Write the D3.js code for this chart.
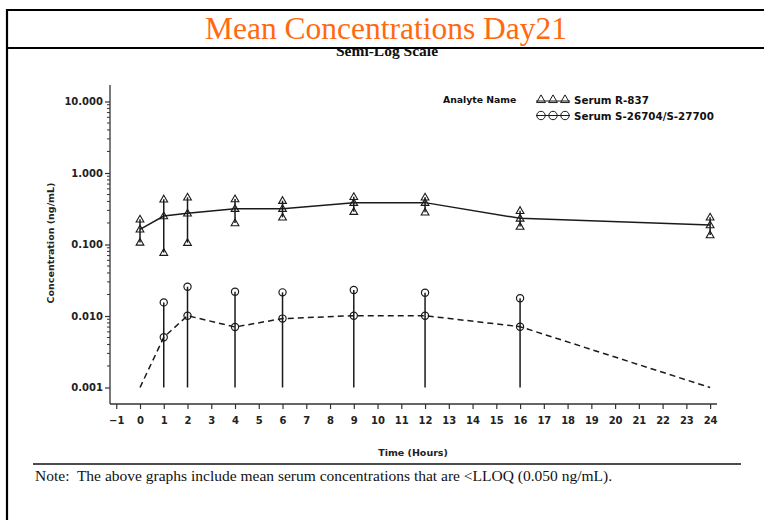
<!DOCTYPE html>
<html><head><meta charset="utf-8">
<script src="https://cdn.jsdelivr.net/npm/d3@7"></script>
<style>
html,body{margin:0;padding:0;background:#fff;}
svg{display:block;}
</style></head>
<body>
<svg id="chart" width="764" height="520"></svg>
<script>
// ---- data ----
const times = [0, 1, 2, 4, 6, 9, 12, 16, 24];
const r837Mean  = [0.163, 0.25, 0.273, 0.317, 0.317, 0.385, 0.385, 0.232, 0.187];
const r837Upper = [0.225, 0.43, 0.457, 0.433, 0.41, 0.466, 0.457, 0.297, 0.24];
const r837Lower = [0.107, 0.077, 0.106, 0.20, 0.24, 0.288, 0.282, 0.178, 0.136];
const sMean  = [0.001, 0.00504, 0.0101, 0.00702, 0.0092, 0.0101, 0.0101, 0.00709, 0.001];
const sUpper = [null, 0.0155, 0.0257, 0.0219, 0.0214, 0.0231, 0.0212, 0.0177, null];
const sLower = [null, 0.001, 0.001, 0.001, 0.001, 0.001, 0.001, 0.001, null];
const xTickValues = d3.range(-1, 25);
const yTickValues = [0.001, 0.01, 0.1, 1, 10];
const seriesNames = ["Serum R-837", "Serum S-26704/S-27700"];
const titleText = "Mean Concentrations Day21";
const subtitleText = "Semi-Log Scale";
const xLabel = "Time (Hours)";
const yLabel = "Concentration (ng/mL)";
const legendTitle = "Analyte Name";
const noteText = "Note:  The above graphs include mean serum concentrations that are <LLOQ (0.050 ng/mL).";

const svg = d3.select("#chart");
const sans = "'DejaVu Sans', sans-serif";
const serif = "'Liberation Serif', 'Times New Roman', serif";

const x = d3.scaleLinear().domain([-1.263, 24.29]).range([110, 717]);
const y = d3.scaleLog().domain([0.000588, 17.0]).range([404, 85]);

// subtitle (drawn first, top clipped by title box)
svg.append("text").attr("x", 387).attr("y", 56).attr("text-anchor", "middle")
  .attr("font-family", serif).attr("font-size", 15.5).attr("font-weight", "bold")
  .attr("fill", "#111").text(subtitleText);
svg.append("rect").attr("x", 0).attr("y", 0).attr("width", 764).attr("height", 48).attr("fill", "#fff");

// frame
svg.append("line").attr("x1", 7).attr("x2", 764).attr("y1", 10).attr("y2", 10).attr("stroke", "#000").attr("stroke-width", 2.2);
svg.append("line").attr("x1", 7).attr("x2", 764).attr("y1", 48).attr("y2", 48).attr("stroke", "#000").attr("stroke-width", 2.2);
svg.append("line").attr("x1", 7).attr("x2", 7).attr("y1", 9).attr("y2", 520).attr("stroke", "#000").attr("stroke-width", 2.2);

// title
svg.append("text").attr("x", 386).attr("y", 39).attr("text-anchor", "middle")
  .attr("font-family", serif).attr("font-size", 31.5).attr("fill", "#FF6A10").text(titleText);

// axes
const axisColor = "#333";
const gY = svg.append("g");
gY.append("line").attr("x1", 110).attr("x2", 110).attr("y1", 85).attr("y2", 404).attr("stroke", axisColor).attr("stroke-width", 1.3);
const yAxis = d3.axisLeft(y).tickValues(yTickValues).tickSize(5).tickFormat(d3.format(".3f"));
const gYA = svg.append("g").attr("transform", "translate(110,0)").call(yAxis);
gYA.select(".domain").remove();
gYA.selectAll(".tick line").attr("stroke", axisColor).attr("stroke-width", 1.2);
gYA.selectAll(".tick text").attr("font-family", sans).attr("font-weight", "bold").attr("font-size", 10).attr("fill", "#222").attr("x", -7);
// minor ticks
const minor = [];
[0.001, 0.01, 0.1, 1].forEach(b => { for (let k = 2; k <= 9; k++) minor.push(b * k); });
svg.append("g").selectAll("line").data(minor).join("line")
  .attr("x1", 107).attr("x2", 110).attr("y1", d => y(d)).attr("y2", d => y(d))
  .attr("stroke", axisColor).attr("stroke-width", 1);

const xAxis = d3.axisBottom(x).tickValues(xTickValues).tickSize(5).tickFormat(d => d < 0 ? "\u2212" + Math.abs(d) : d);
const gXA = svg.append("g").attr("transform", "translate(0,404)").call(xAxis);
gXA.select(".domain").attr("d", "M110,0H717").attr("stroke", axisColor).attr("stroke-width", 1.3);
gXA.selectAll(".tick line").attr("stroke", axisColor).attr("stroke-width", 1.2);
gXA.selectAll(".tick text").attr("font-family", sans).attr("font-weight", "bold").attr("font-size", 10).attr("fill", "#222").attr("y", 13);

// axis labels
svg.append("text").attr("x", 413).attr("y", 456).attr("text-anchor", "middle")
  .attr("font-family", sans).attr("font-weight", "bold").attr("font-size", 9.5).attr("fill", "#222").text(xLabel);
svg.append("text").attr("transform", "translate(54,243) rotate(-90)").attr("text-anchor", "middle")
  .attr("font-family", sans).attr("font-weight", "bold").attr("font-size", 9.5).attr("fill", "#222").text(yLabel);

// symbols
const tri = d3.symbol().type(d3.symbolTriangle).size(26);
const lineCol = "#1a1a1a";

// series 1: R-837
const s1 = times.map((t, i) => ({t, m: r837Mean[i], u: r837Upper[i], l: r837Lower[i]}));
const g1 = svg.append("g");
g1.selectAll("line.err").data(s1).join("line").attr("class", "err")
  .attr("x1", d => x(d.t)).attr("x2", d => x(d.t)).attr("y1", d => y(d.l)).attr("y2", d => y(d.u))
  .attr("stroke", lineCol).attr("stroke-width", 1.5);
g1.append("path").datum(s1).attr("fill", "none").attr("stroke", lineCol).attr("stroke-width", 1.5)
  .attr("d", d3.line().x(d => x(d.t)).y(d => y(d.m)));
["u", "l", "m"].forEach(k => {
  g1.selectAll("path.m" + k).data(s1).join("path").attr("class", "m" + k)
    .attr("d", tri).attr("transform", d => `translate(${x(d.t)},${y(d[k]) + 0.5})`)
    .attr("fill", "none").attr("stroke", lineCol).attr("stroke-width", 1.1);
});

// series 2: S-26704/S-27700
const s2 = times.map((t, i) => ({t, m: sMean[i], u: sUpper[i], l: sLower[i]}));
const g2 = svg.append("g");
const withBars = s2.filter(d => d.u !== null);
g2.selectAll("line.err").data(withBars).join("line").attr("class", "err")
  .attr("x1", d => x(d.t)).attr("x2", d => x(d.t)).attr("y1", d => y(d.l)).attr("y2", d => y(d.u))
  .attr("stroke", lineCol).attr("stroke-width", 1.5);
g2.append("path").datum(s2).attr("fill", "none").attr("stroke", lineCol).attr("stroke-width", 1.5)
  .attr("stroke-dasharray", "6,4")
  .attr("d", d3.line().x(d => x(d.t)).y(d => y(d.m)));
["u", "m"].forEach(k => {
  g2.selectAll("circle.m" + k).data(withBars).join("circle").attr("class", "m" + k)
    .attr("cx", d => x(d.t)).attr("cy", d => y(d[k])).attr("r", 3.6)
    .attr("fill", "none").attr("stroke", lineCol).attr("stroke-width", 1.2);
});

// legend
const lg = svg.append("g");
lg.append("text").attr("x", 443).attr("y", 103).attr("font-family", sans).attr("font-weight", "bold")
  .attr("font-size", 9.3).attr("fill", "#111").text(legendTitle);
const legXs = [541, 553, 565];
lg.append("line").attr("x1", 536).attr("x2", 570).attr("y1", 101).attr("y2", 101).attr("stroke", lineCol).attr("stroke-width", 1);
lg.selectAll("path.lt").data(legXs).join("path").attr("class", "lt")
  .attr("d", d3.symbol().type(d3.symbolTriangle).size(34)).attr("transform", d => `translate(${d},100)`)
  .attr("fill", "none").attr("stroke", lineCol).attr("stroke-width", 1);
lg.append("line").attr("x1", 536).attr("x2", 570).attr("y1", 115.5).attr("y2", 115.5).attr("stroke", lineCol).attr("stroke-width", 1);
lg.selectAll("circle.lc").data(legXs).join("circle").attr("class", "lc")
  .attr("cx", d => d).attr("cy", 115.5).attr("r", 4.2)
  .attr("fill", "none").attr("stroke", lineCol).attr("stroke-width", 1);
lg.selectAll("text.ln").data(seriesNames).join("text").attr("class", "ln")
  .attr("x", 574).attr("y", (d, i) => 103.5 + i * 16).attr("font-family", sans).attr("font-weight", "bold")
  .attr("font-size", 10.3).attr("fill", "#111").text(d => d);

// note
svg.append("line").attr("x1", 33).attr("x2", 741).attr("y1", 464).attr("y2", 464).attr("stroke", "#111").attr("stroke-width", 1.5);
svg.append("text").attr("x", 35).attr("y", 481).attr("font-family", serif).attr("font-size", 15.5)
  .attr("fill", "#111").attr("xml:space", "preserve").style("white-space", "pre").text(noteText);
</script>
</body></html>
